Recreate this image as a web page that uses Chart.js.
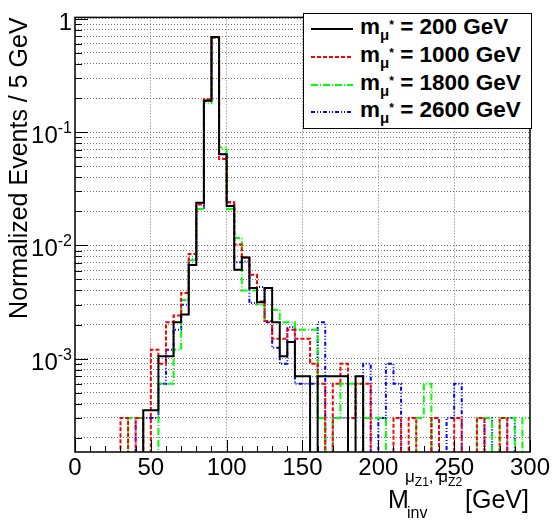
<!DOCTYPE html>
<html>
<head>
<meta charset="utf-8">
<script src="https://cdn.jsdelivr.net/npm/chart.js@4.4.0/dist/chart.umd.min.js"></script>
<style>
html, body { margin: 0; padding: 0; background: #fff; }
#wrap { position: relative; width: 552px; height: 520px; overflow: hidden; font-family: "Liberation Sans", Arial, sans-serif; color: #000; }
#chart { position: absolute; left: 0; top: 0; }
#legend { position: absolute; left: 303px; top: 13px; width: 227px; height: 114px; border: 1.5px solid #000; background: #fff; }
.row { position: absolute; left: 0; width: 227px; height: 28px; }
.row svg { position: absolute; left: 7px; top: 12px; }
.row b { position: absolute; left: 56px; top: 0px; font-size: 22.5px; line-height: 23px; white-space: nowrap; }
.mu { font-size: 15px; position: relative; top: 6px; }
.star { font-size: 12px; position: relative; top: -11px; }
.xt { position: absolute; line-height: 1; white-space: nowrap; }
.zs { font-size: 12px; position: relative; top: 4px; }
.yl { position: absolute; right: 480px; font-size: 24px; line-height: 1; white-space: nowrap; }
.yl span { font-size: 16px; position: relative; top: -10px; }
</style>
</head>
<body>
<div id="wrap">
  <canvas id="chart" width="552" height="520"></canvas>
  <div id="legend"></div>
  <div class="xt" style="left:388px; top:487px; font-size:25px;">M</div>
  <div class="xt" style="left:407px; top:505px; font-size:16px;">inv</div>
  <div class="xt" style="left:405px; top:468px; font-size:17px;">μ<span class="zs">Z1</span>, μ<span class="zs">Z2</span></div>
  <div class="xt" style="right:23px; top:487px; font-size:25px;">[GeV]</div>
</div>
<script>
// ---- data (normalized events per 5 GeV bin)
const binWidth = 5;
const binLow = Array.from({length: 60}, (_, i) => i * binWidth);   // 0 ... 295 GeV

const massLabels = ['200', '1000', '1800', '2600'];

const m200 = [
  0, 0, 0, 0, 0, 0, 0, 0, 0, 3.5e-4,
  3.5e-4, 1.05e-3, 1.05e-3, 2.1e-3, 2.45e-3, 6.7e-3, 0.0238, 0.189, 0.69, 0.0638,
  0.0223, 6.1e-3, 7.8e-3, 4.2e-3, 3.15e-3, 4.2e-3, 2.1e-3, 1.05e-3, 1.4e-3, 7e-4,
  7e-4, 0, 7e-4, 7e-4, 7e-4, 7e-4, 0, 7e-4, 0, 0,
  0, 0, 0, 0, 0, 0, 0, 0, 0, 0,
  0, 0, 0, 0, 0, 0, 0, 0, 0, 0
];
const m1000 = [
  0, 0, 0, 0, 0, 0, 3e-4, 0, 3e-4, 0,
  1.2e-3, 9e-4, 2.1e-3, 2.4e-3, 3.8e-3, 8.4e-3, 0.023, 0.195, 0.68, 0.058,
  0.0241, 0.0102, 7.8e-3, 5.5e-3, 3.2e-3, 2.15e-3, 1.5e-3, 1.5e-3, 1.8e-3, 1.5e-3,
  1.5e-3, 9e-4, 6e-4, 0, 6e-4, 9e-4, 3e-4, 6e-4, 6e-4, 0,
  0, 0, 3e-4, 0, 3e-4, 0, 0, 3e-4, 0, 0,
  3e-4, 0, 0, 3e-4, 0, 0, 3e-4, 0, 0, 0
];
const m1800 = [
  0, 0, 0, 0, 0, 0, 0, 3e-4, 3e-4, 0,
  0, 6e-4, 6e-4, 1.2e-3, 3.3e-3, 7.4e-3, 0.021, 0.18, 0.68, 0.073,
  0.021, 0.0116, 4.0e-3, 4.0e-3, 3.0e-3, 2.15e-3, 2.7e-3, 2.1e-3, 2.1e-3, 1.8e-3,
  1.8e-3, 1.8e-3, 3e-4, 0, 3e-4, 6e-4, 6e-4, 6e-4, 3e-4, 3e-4,
  3e-4, 0, 0, 0, 0, 3e-4, 6e-4, 0, 0, 0,
  0, 0, 0, 3e-4, 3e-4, 0, 3e-4, 3e-4, 0, 3e-4
];
const m2600 = [
  0, 0, 0, 0, 0, 0, 0, 0, 3e-4, 3e-4,
  3e-4, 6e-4, 1.2e-3, 1.8e-3, 3.0e-3, 7.5e-3, 0.021, 0.19, 0.69, 0.064,
  0.024, 7.1e-3, 7.2e-3, 3.1e-3, 4.3e-3, 2.1e-3, 1.25e-3, 9e-4, 1.9e-3, 6e-4,
  6e-4, 6e-4, 2.1e-3, 0, 3e-4, 3e-4, 0, 0, 9e-4, 0,
  3e-4, 9e-4, 6e-4, 0, 0, 0, 0, 3e-4, 0, 3e-4,
  6e-4, 0, 0, 0, 3e-4, 0, 0, 3e-4, 0, 0
];

// axis ticks
const xLabelTicks = [0, 50, 100, 150, 200, 250, 300];
const xMinorStep = 10;
const yDecades = [1e-4, 1e-3, 1e-2, 1e-1];
const yLabelValues = [1, 0.1, 0.01, 0.001];
const yLabelBase = ['1', '10', '10', '10'];
const yLabelExp = ['', '-1', '-2', '-3'];

const xMin = 0, xMax = 300;
const yMin = 1.5e-4, yMax = 1.03;

// ---- styles
const colors = ['#000000', '#ff0000', '#00ff00', '#0000ff'];
const dashes = [[], [4, 2], [7, 2, 1, 2], [4, 2, 1, 2, 1, 2]];

const yTicks = [];
yDecades.forEach(d => {
  for (let k = 1; k <= 9; k++) {
    const v = Number((k * d).toPrecision(6));
    if (v >= yMin && v <= yMax) yTicks.push(v);
  }
});
yTicks.push(1);

const xMinor = [];
for (let v = xMin; v <= xMax; v += xMinorStep) xMinor.push(v);

function isDecade(v) {
  return Math.abs(Math.log10(v) - Math.round(Math.log10(v))) < 1e-6;
}

// empty bins sit far below the axis, ROOT style
const FLOOR = 1e-7;
function steps(vals) {
  const pts = vals.map((v, i) => ({x: binLow[i], y: v > 0 ? v : FLOOR}));
  const last = vals[vals.length - 1];
  pts.push({x: xMax, y: last > 0 ? last : FLOOR});
  return pts;
}

const series = [m200, m1000, m1800, m2600];

const framePlugin = {
  id: 'frame',
  afterDatasetsDraw(chart) {
    const {ctx, chartArea: a, scales: {x, y}} = chart;
    ctx.save();
    ctx.setLineDash([]);
    ctx.strokeStyle = '#000';
    ctx.lineWidth = 1;
    ctx.beginPath();
    xMinor.forEach(v => {
      const px = Math.round(x.getPixelForValue(v)) + 0.5;
      const len = v % 50 === 0 ? 12 : 6;
      ctx.moveTo(px, a.bottom);
      ctx.lineTo(px, a.bottom - len);
    });
    yTicks.forEach(v => {
      const py = Math.round(y.getPixelForValue(v)) + 0.5;
      const len = isDecade(v) ? 13 : 7;
      ctx.moveTo(a.left, py);
      ctx.lineTo(a.left + len, py);
    });
    ctx.stroke();
    ctx.lineWidth = 1.5;
    ctx.strokeRect(a.left, a.top, a.right - a.left, a.bottom - a.top);
    ctx.restore();
  }
};

Chart.defaults.font.family = '"Liberation Sans", Arial, sans-serif';
Chart.defaults.color = '#000';

const chart = new Chart(document.getElementById('chart'), {
  type: 'line',
  data: {
    datasets: series.map((s, i) => ({
      label: massLabels[i],
      data: steps(s),
      stepped: 'before',
      borderColor: colors[i],
      borderDash: dashes[i],
      borderWidth: 2,
      pointRadius: 0,
      fill: false
    }))
  },
  options: {
    responsive: false,
    animation: false,
    layout: { padding: { left: 0, right: 22, top: 14, bottom: 0 } },
    plugins: { legend: { display: false }, tooltip: { enabled: false } },
    scales: {
      x: {
        type: 'linear',
        min: xMin,
        max: xMax,
        afterFit: s => { s.height = 68; },
        afterBuildTicks: s => { s.ticks = xLabelTicks.map(v => ({value: v})); },
        ticks: { font: { size: 24 }, padding: 2, maxRotation: 0, autoSkip: false },
        grid: {
          drawTicks: false,
          color: c => (c.tick && (c.tick.value === xMin || c.tick.value === xMax)) ? 'rgba(0,0,0,0)' : '#777',
          lineWidth: 1
        },
        border: { display: false, dash: [1, 2] }
      },
      y: {
        type: 'logarithmic',
        min: yMin,
        max: yMax,
        afterFit: s => { s.width = 75; },
        afterBuildTicks: s => { s.ticks = yTicks.map(v => ({value: v})); },
        // labels are html (superscripts), see below
        ticks: { font: { size: 24 }, padding: 3, autoSkip: false, callback: () => '' },
        grid: { drawTicks: false, color: '#777', lineWidth: 1 },
        border: { display: false, dash: [1, 2] },
        title: {
          display: true,
          text: 'Normalized Events / 5 GeV',
          align: 'end',
          font: { size: 25 },
          padding: { top: 5, bottom: 0 }
        }
      }
    }
  },
  plugins: [framePlugin]
});

// ---- y tick labels with real superscripts
const wrap = document.getElementById('wrap');
yLabelValues.forEach((v, i) => {
  const py = chart.scales.y.getPixelForValue(v);
  const el = document.createElement('div');
  el.className = 'yl';
  el.style.top = (py - 9) + 'px';
  el.innerHTML = yLabelBase[i] + (yLabelExp[i] ? '<span>' + yLabelExp[i] + '</span>' : '');
  wrap.appendChild(el);
});

// ---- legend (html so sub/superscripts stay real text)
const legend = document.getElementById('legend');
massLabels.forEach((m, i) => {
  const row = document.createElement('div');
  row.className = 'row';
  row.style.top = (1 + i * 27.8) + 'px';
  const dash = dashes[i].join(' ');
  row.innerHTML =
    '<svg width="42" height="4"><line x1="0" y1="2" x2="42" y2="2" stroke="' + colors[i] +
    '" stroke-width="2" stroke-dasharray="' + dash + '"/></svg>' +
    '<b>m<span class="mu">\u03BC<span class="star">*</span></span> = ' + m + ' GeV</b>';
  legend.appendChild(row);
});
</script>
</body>
</html>
